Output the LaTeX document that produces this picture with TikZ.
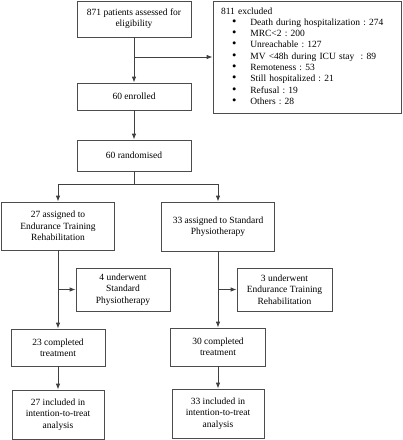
\documentclass[tikz,border=0pt]{standalone}
\usepackage{fontspec}
\usepackage{array}
\setmainfont{Liberation Serif}
\usetikzlibrary{arrows.meta}
\frenchspacing

\begin{document}
\begin{tikzpicture}
[x=1pt,y=-1pt,
  nodeDecorate/.style={shape=rectangle,draw=black!70,line width=0.8pt,inner sep=2pt,align=center,font=\fontsize{9.5}{11.3}\selectfont},
  lineDecorate/.style={-,draw=black!75,line width=0.8pt},
  arrowDecorate/.style={lineDecorate,-{Latex[length=6pt,width=4.5pt]}}]
\useasboundingbox (0,0) rectangle (403,440);
%% boxes
\foreach \nodename/\x/\y/\w/\h/\txt in {
  elig/134/19/114/36/{871 patients assessed for\\eligibility},
  enrol/134/96.5/114/27/{60 enrolled},
  rand/134/155.5/114/31/{60 randomised},
  etr/58/226/113/48/{27 assigned to\\Endurance Training\\Rehabilitation},
  sp/218/226.5/113/49/{33 assigned to Standard\\Physiotherapy},
  swa/123/289.5/94/43/{4 underwent\\Standard\\Physiotherapy},
  swb/284.5/289.5/95/43/{3 underwent\\Endurance Training\\Rehabilitation},
  compa/58/347.5/94/37/{23 completed\\treatment},
  compb/218/347/95/38/{30 completed\\treatment},
  itta/58/414.5/92/49/{27 included in\\intention-to-treat\\analysis},
  ittb/218/413.5/92/49/{33 included in\\intention-to-treat\\analysis}}
{
  \node (\nodename) at (\x,\y) [nodeDecorate,minimum width=\w pt,minimum height=\h pt] {\txt};
}
\node (excl) at (307,57) [nodeDecorate,align=left,text width=172pt,inner xsep=8pt,minimum height=112pt] {\noindent
  \begin{tabular}{@{\hspace{11pt}}>{\fontsize{12.5}{11.3}\selectfont}l@{\hspace{14pt}}l@{}}
    \multicolumn{2}{@{}l}{811 excluded}\\
    \textbullet & Death during hospitalization : 274\\
    \textbullet & MRC<2 : 200\\
    \textbullet & Unreachable : 127\\
    \textbullet & MV <48h during ICU stay~ : 89\\
    \textbullet & Remoteness : 53\\
    \textbullet & Still hospitalized : 21\\
    \textbullet & Refusal : 19\\
    \textbullet & Others : 28
  \end{tabular}};
%% connectors
\path
\foreach \startnode/\endnode in {
  elig/enrol, enrol/rand, etr/compa, sp/compb, compa/itta, compb/ittb}
{
  (\startnode) edge[arrowDecorate] (\endnode)
};
\coordinate (split) at (134,184);
\draw[lineDecorate] (rand) -- (split);
\draw[arrowDecorate] (split) -| (etr);
\draw[arrowDecorate] (split) -| (sp);
\draw[arrowDecorate] (elig.south |- excl.west) -- (excl.west);
\draw[arrowDecorate] (etr.south |- swa.west) -- (swa.west);
\draw[arrowDecorate] (sp.south |- swb.west) -- (swb.west);
\end{tikzpicture}
\end{document}
